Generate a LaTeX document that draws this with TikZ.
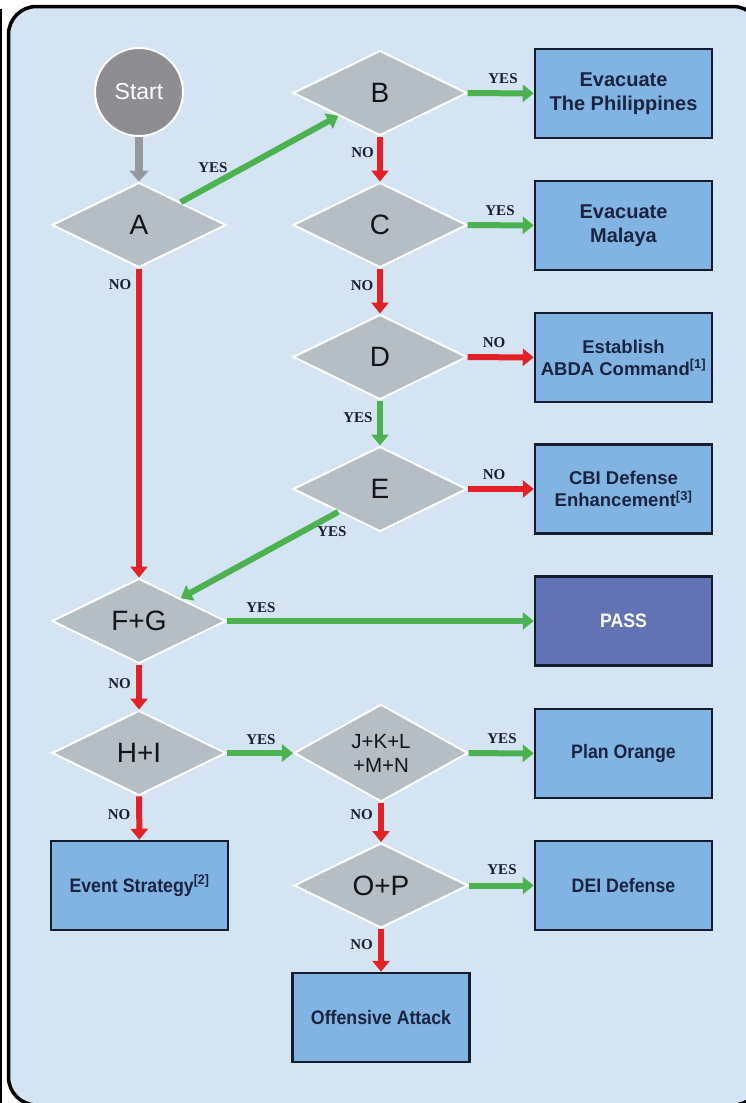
\documentclass[tikz,border=0pt]{standalone}
\usepackage{fontspec}
\setmainfont{Liberation Sans}
\newfontfamily\serifb{Liberation Serif}
\newfontfamily\narrowb{Liberation Sans}[FakeStretch=0.91]
\usetikzlibrary{shapes.geometric,arrows.meta}
\definecolor{bgblue}{RGB}{213,228,243}
\definecolor{boxfill}{RGB}{130,180,227}
\definecolor{passfill}{RGB}{97,115,180}
\definecolor{boxline}{RGB}{20,28,45}
\definecolor{boxtext}{RGB}{26,35,64}
\definecolor{diafill}{RGB}{181,190,197}
\definecolor{diatext}{RGB}{20,20,22}
\definecolor{startfill}{RGB}{142,142,146}
\definecolor{grayarrow}{RGB}{150,152,158}
\definecolor{yesgreen}{RGB}{76,178,80}
\definecolor{nored}{RGB}{226,32,38}
\definecolor{lbltext}{RGB}{25,30,50}
\begin{document}
\begin{tikzpicture}[x=1pt,y=-1pt,
  dia/.style={diamond, fill=diafill, draw=white, line width=2pt,
    minimum width=174pt, minimum height=85pt, inner sep=0pt,
    text=diatext, align=center, font=\fontsize{28}{30}\selectfont},
  box/.style={rectangle, fill=boxfill, draw=boxline, line width=2.5pt,
    minimum width=177pt, minimum height=89pt, inner sep=2pt,
    text=boxtext, align=center, font=\bfseries\fontsize{18.5}{22}\selectfont},
  bigbox/.style={box, font=\bfseries\fontsize{20}{24}\selectfont},
  nbox/.style={box, font=\narrowb\bfseries\fontsize{19.5}{22}\selectfont},
  lbl/.style={inner sep=0pt, text=lbltext, font=\serifb\bfseries\fontsize{15}{15}\selectfont},
  yesarr/.style={draw=yesgreen, line width=6pt, -{Triangle[width=17pt,length=11pt]}},
  noarr/.style={draw=nored, line width=6pt, -{Triangle[width=17pt,length=11pt]}},
  grayarr/.style={draw=grayarrow, line width=8pt, -{Triangle[width=19pt,length=11pt]}}
]
\useasboundingbox (0,0) rectangle (745,1103);
\fill[white] (0,0) rectangle (745,1103);
\draw[black, line width=1.5pt] (1,9) -- (1,1103);
\draw[black, line width=3.5pt, fill=bgblue, rounded corners=28pt] (8.5,6.5) rectangle (761,1105);

% nodes
\node[circle, fill=startfill, draw=white, line width=2pt, minimum size=88pt,
  text=white, font=\fontsize{23}{25}\selectfont] (start) at (139,92) {Start};
\node[dia] (A) at (139,225) {A};
\node[dia] (B) at (380,93) {B};
\node[dia] (C) at (380,225) {C};
\node[dia] (D) at (380,357) {D};
\node[dia] (E) at (380,489) {E};
\node[dia] (FG) at (139,621) {F+G};
\node[dia] (HI) at (139,753) {H+I};
\node[dia, font=\fontsize{20.5}{24}\selectfont] (JK) at (381,753) {J+K+L\\+M+N};
\node[dia] (OP) at (381,885.5) {O+P};

\node[bigbox] (bx1) at (623.5,93.5) {Evacuate\\The Philippines};
\node[bigbox] (bx2) at (623.5,225.5) {Evacuate\\Malaya};
\node[box] (bx3) at (623.5,357.5) {Establish\\ABDA Command\textsuperscript{[1]}};
\node[box] (bx4) at (623.5,489) {CBI Defense\\Enhancement\textsuperscript{[3]}};
\node[nbox, fill=passfill, text=white] (pass) at (623.5,621) {PASS};
\node[nbox] (plan) at (623.5,753.5) {Plan Orange};
\node[nbox] (ev) at (139.5,885.5) {Event Strategy\textsuperscript{[2]}};
\node[nbox] (dei) at (623.5,885.5) {DEI Defense};
\node[nbox] (off) at (381,1017.5) {Offensive Attack};

% connectors
\draw[grayarr] (start) -- (A);
\draw[yesarr] (A) -- (B);
\draw[noarr] (A) -- (FG);
\draw[yesarr] (B) -- (bx1);
\draw[noarr] (B) -- (C);
\draw[yesarr] (C) -- (bx2);
\draw[noarr] (C) -- (D);
\draw[noarr] (D) -- (bx3);
\draw[yesarr] (D) -- (E);
\draw[noarr] (E) -- (bx4);
\draw[yesarr] (E) -- (FG);
\draw[yesarr] (FG) -- (pass);
\draw[noarr] (FG) -- (HI);
\draw[yesarr] (HI) -- (JK);
\draw[noarr] (HI) -- (ev);
\draw[yesarr] (JK) -- (plan);
\draw[noarr] (JK) -- (OP);
\draw[yesarr] (OP) -- (dei);
\draw[noarr] (OP) -- (off);

% labels
\node[lbl] (lAB) at (213,168) {YES};
\node[lbl] (lAF) at (120,285) {NO};
\node[lbl] (lB1) at (503,79) {YES};
\node[lbl] (lBC) at (362.5,153) {NO};
\node[lbl] (lC2) at (500,211) {YES};
\node[lbl] (lCD) at (362,286) {NO};
\node[lbl] (lD3) at (494,343) {NO};
\node[lbl] (lDE) at (358,418) {YES};
\node[lbl] (lE4) at (494,475) {NO};
\node[lbl] (lEF) at (332,532) {YES};
\node[lbl] (lFP) at (261,608) {YES};
\node[lbl] (lFH) at (119.5,684) {NO};
\node[lbl] (lHJ) at (261,740) {YES};
\node[lbl] (lJP) at (502,739) {YES};
\node[lbl] (lHE) at (119,815) {NO};
\node[lbl] (lJO) at (361.5,815) {NO};
\node[lbl] (lOD) at (502,870) {YES};
\node[lbl] (lOO) at (361.5,945) {NO};
\end{tikzpicture}
\end{document}
